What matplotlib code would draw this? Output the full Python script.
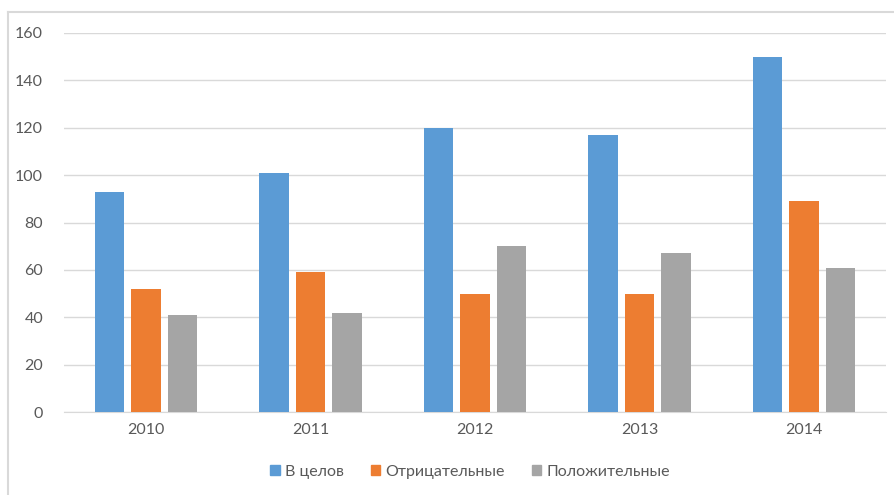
import numpy as np
import matplotlib.pyplot as plt
from matplotlib.lines import Line2D

years = ['2010', '2011', '2012', '2013', '2014']
total = [93, 101, 120, 117, 150]
negative = [52, 59, 50, 50, 89]
positive = [41, 42, 70, 67, 61]

series = [('В целов', total, '#5B9BD5'),
          ('Отрицательные', negative, '#ED7D31'),
          ('Положительные', positive, '#A5A5A5')]

plt.rcParams['font.family'] = ['Lato', 'DejaVu Sans']
txt = '#595959'

fig = plt.figure(figsize=(8.94, 4.95), dpi=100)
ax = fig.add_axes([64 / 894, 1 - 412 / 495, 822 / 894, 379 / 495])

x = np.arange(len(years))
w = 0.18
step = 0.222
for i, (name, vals, col) in enumerate(series):
    ax.bar(x + (i - 1) * step, vals, width=w, color=col, label=name, zorder=3)

ax.set_xlim(-0.5, len(years) - 0.5)
ax.set_ylim(0, 160)
ax.set_yticks(range(0, 161, 20))
ax.set_xticks(x)
ax.set_xticklabels(years)
ax.grid(axis='y', color='#D9D9D9', linewidth=1, zorder=0)
for s in ['top', 'right', 'left']:
    ax.spines[s].set_visible(False)
ax.spines['bottom'].set_color('#D9D9D9')
ax.tick_params(length=0, colors=txt, labelsize=11.5)
ax.tick_params(axis='y', pad=15)
ax.tick_params(axis='x', pad=8)

handles = [plt.Rectangle((0, 0), 1, 1, color=c) for _, _, c in series]
fig.legend(handles, [n for n, _, _ in series], loc='center',
           bbox_to_anchor=(470 / 894, 1 - 472 / 495), ncol=3, frameon=False,
           fontsize=11.5, labelcolor=txt, handlelength=0.6, handleheight=0.6,
           handletextpad=0.3, columnspacing=1.7)

# outer chart border
fig.add_artist(Line2D([8 / 894, 8 / 894], [0, 1 - 12 / 495], transform=fig.transFigure,
                      color='#D9D9D9', linewidth=1.5))
fig.add_artist(Line2D([8 / 894, 1], [1 - 12 / 495, 1 - 12 / 495], transform=fig.transFigure,
                      color='#D9D9D9', linewidth=1.5))

fig.savefig('out.png', dpi=100)
